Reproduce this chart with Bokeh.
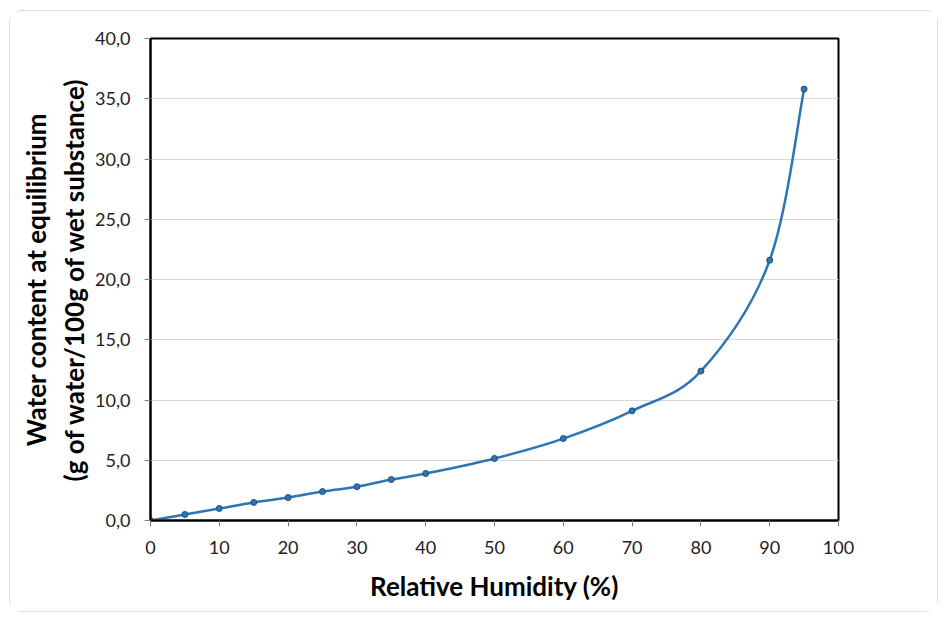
from bokeh.plotting import figure
from bokeh.embed import file_html
from bokeh.resources import INLINE
from bokeh.models import FixedTicker, Range1d

# ---- data ----
humidity = [0, 5, 10, 15, 20, 25, 30, 35, 40, 50, 60, 70, 80, 90, 95]
water = [0.0, 0.5, 1.0, 1.5, 1.9, 2.4, 2.8, 3.4, 3.9, 5.15, 6.8, 9.1, 12.4, 21.6, 35.8]

x_ticks = [0, 10, 20, 30, 40, 50, 60, 70, 80, 90, 100]
y_ticks = [0, 5, 10, 15, 20, 25, 30, 35, 40]
y_tick_labels = ["0,0", "5,0", "10,0", "15,0", "20,0", "25,0", "30,0", "35,0", "40,0"]

x_title = "Relative Humidity (%)"
y_title = "Water content at equilibrium\n(g of water/100g of wet substance)"

FONT = "Lato"
BLUE = "#2e75b6"

p = figure(width=929, height=602, output_backend="svg", toolbar_location=None,
           x_range=Range1d(0, 100), y_range=Range1d(0, 40),
           min_border_left=140, min_border_right=101, min_border_top=27, min_border_bottom=93)

p.styles = {"border": "1px solid #dddddd", "border-radius": "12px",
            "margin-left": "9px", "margin-top": "10px"}
p.background_fill_color = "white"
p.border_fill_color = "white"
p.outline_line_color = "black"
p.outline_line_width = 2

p.xgrid.visible = False
p.ygrid.grid_line_color = "#d9d9d9"
p.ygrid.grid_line_width = 1

for ax in (p.xaxis[0], p.yaxis[0]):
    ax.axis_line_color = "black"
    ax.axis_line_width = 2
    ax.major_tick_line_color = "#7f7f7f"
    ax.major_tick_in = 0
    ax.major_tick_out = 6
    ax.minor_tick_line_color = None
    ax.major_label_text_font = FONT
    ax.major_label_text_font_size = "18px"
    ax.major_label_text_color = "#222222"
    ax.axis_label_text_font = FONT
    ax.axis_label_text_font_style = "bold"
    ax.axis_label_text_font_size = "26px"
    ax.axis_label_text_color = "black"

p.xaxis.ticker = FixedTicker(ticks=x_ticks)
p.yaxis.ticker = FixedTicker(ticks=y_ticks)
p.yaxis.major_label_overrides = {t: l for t, l in zip(y_ticks, y_tick_labels)}
p.xaxis.axis_label = x_title
p.yaxis.axis_label = y_title
p.xaxis.major_label_standoff = 14
p.yaxis.major_label_standoff = 14
p.xaxis.axis_label_standoff = 13
p.yaxis.axis_label_standoff = 2

# smoothed line (Catmull-Rom -> Bezier) built from the data points
n = len(humidity)
x0, y0, x1, y1, cx0, cy0, cx1, cy1 = [], [], [], [], [], [], [], []
for i in range(n - 1):
    xm1, ym1 = (humidity[i - 1], water[i - 1]) if i > 0 else (humidity[i], water[i])
    xa, ya = humidity[i], water[i]
    xb, yb = humidity[i + 1], water[i + 1]
    xp2, yp2 = (humidity[i + 2], water[i + 2]) if i + 2 < n else (xb, yb)
    x0.append(xa); y0.append(ya); x1.append(xb); y1.append(yb)
    cx0.append(xa + (xb - xm1) / 6); cy0.append(ya + (yb - ym1) / 6)
    cx1.append(xb - (xp2 - xa) / 6); cy1.append(yb - (yp2 - ya) / 6)

p.bezier(x0=x0, y0=y0, x1=x1, y1=y1, cx0=cx0, cy0=cy0, cx1=cx1, cy1=cy1,
         line_color=BLUE, line_width=2.5)
p.scatter(humidity, water, size=6, fill_color=BLUE, line_color="#1f4e79", line_width=1)

open("out.html", "w").write(file_html(p, INLINE))
